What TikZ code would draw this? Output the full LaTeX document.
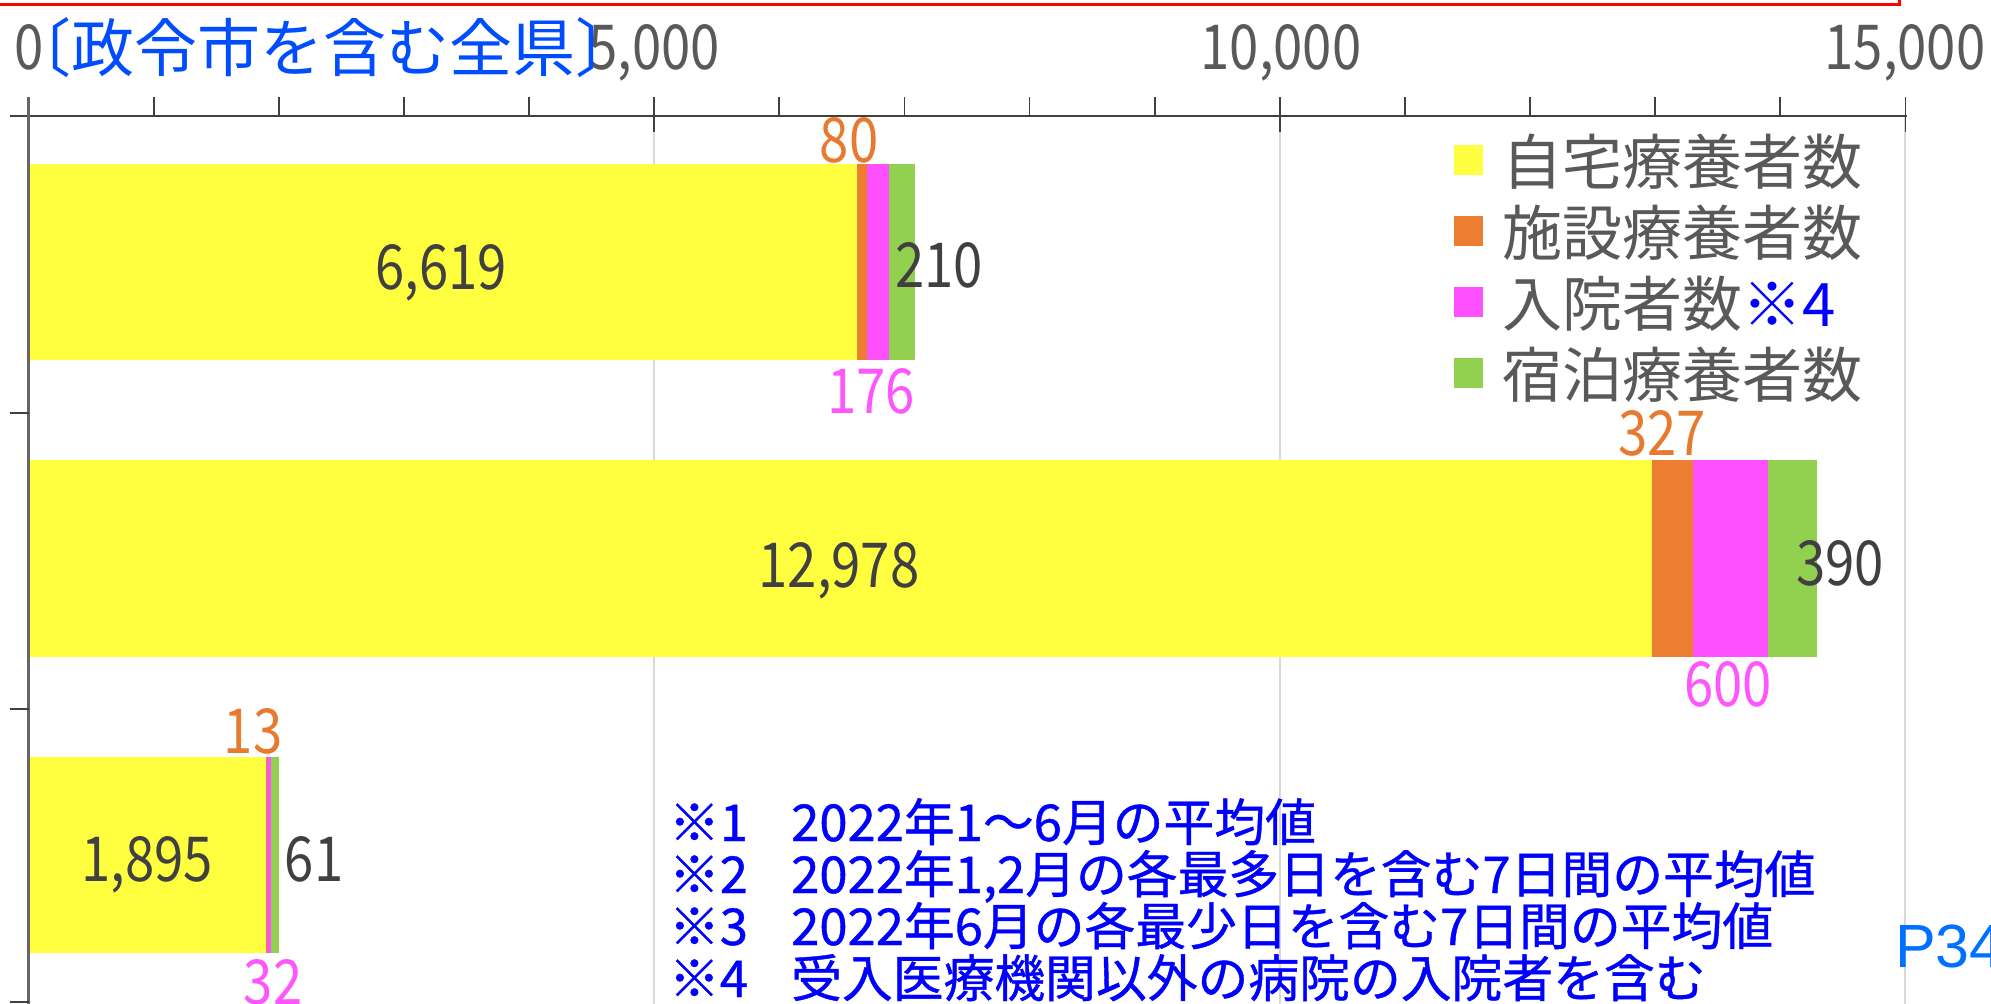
\documentclass[tikz,border=0pt]{standalone}
\usepackage{fontspec}
\setmainfont{Noto Sans CJK JP}
\newfontfamily\numfont[FakeStretch=0.85]{Noto Sans CJK JP}
\newfontfamily\notefont[FakeBold=0.8]{Noto Sans CJK JP}
\newfontfamily\arialfont{Liberation Sans}
\definecolor{cyel}{RGB}{255,255,64}
\definecolor{corg}{RGB}{237,125,49}
\definecolor{cmag}{RGB}{255,80,255}
\definecolor{cgrn}{RGB}{146,208,80}
\definecolor{corgtxt}{RGB}{232,122,48}
\definecolor{cmagtxt}{RGB}{255,85,255}
\definecolor{cdark}{RGB}{64,64,64}
\definecolor{cgray}{RGB}{89,89,89}
\definecolor{cgrid}{RGB}{217,217,217}
\definecolor{ctitle}{RGB}{0,76,255}
\definecolor{cnote}{RGB}{0,0,255}
\definecolor{cpage}{RGB}{0,112,255}
\definecolor{cred}{RGB}{255,0,0}
\tikzset{
  lbl/.style={inner sep=0pt, outer sep=0pt},
  num/.style={lbl, font=\numfont\fontsize{31}{31}\selectfont},
  ticklbl/.style={num, text=cgray, anchor=base},
  inlbl/.style={num, text=cdark, anchor=base},
  orglbl/.style={num, text=corgtxt, anchor=base},
  maglbl/.style={num, text=cmagtxt, anchor=base},
  legtxt/.style={lbl, anchor=base west, text=cgray, font=\fontsize{30}{30}\selectfont},
  notetxt/.style={lbl, anchor=base west, text=cnote, font=\notefont\fontsize{25.4}{25.4}\selectfont},
  gridline/.style={cgrid, line width=1pt},
  axisline/.style={cdark, line width=1.2pt},
  yaxisline/.style={black!60, line width=1.3pt},
  tickline/.style={cdark, line width=0.9pt}
}
\begin{document}
\begin{tikzpicture}[x=0.5pt,y=-0.5pt]
\useasboundingbox (0,0) rectangle (1991,1004);
\clip (0,0) rectangle (1991,1004);
\fill[white] (0,0) rectangle (1991,1004);
% red frame (mostly above the picture)
\draw[cred, line width=1.5pt] (-20,-80) rectangle (1899,5);
% gridlines
\foreach \gx in {654.15,1279.8,1905.45} \draw[gridline] (\gx,116) -- (\gx,1004);
% bars
\fill[cyel] (28.5,164) rectangle (856.7,360);
\fill[corg] (856.7,164) rectangle (866.7,360);
\fill[cmag] (866.7,164) rectangle (888.7,360);
\fill[cgrn] (888.7,164) rectangle (915.0,360);
\fill[cyel] (28.5,460) rectangle (1652.4,657);
\fill[corg] (1652.4,460) rectangle (1693.3,657);
\fill[cmag] (1693.3,460) rectangle (1768.4,657);
\fill[cgrn] (1768.4,460) rectangle (1817.2,657);
\fill[cyel] (28.5,757) rectangle (265.6,953);
\fill[corg] (265.6,757) rectangle (267.2,953);
\fill[cmag] (267.2,757) rectangle (271.2,953);
\fill[cgrn] (271.2,757) rectangle (278.8,953);
% axes
\foreach \k in {1,...,15} \draw[tickline] ({28.5+125.13*\k},97) -- ({28.5+125.13*\k},116);
\foreach \k in {5,10,15} \draw[tickline] ({28.5+125.13*\k},116) -- ({28.5+125.13*\k},132);
\draw[axisline] (10,116) -- (1906.5,116);
\draw[yaxisline] (28.5,97) -- (28.5,1004);
\foreach \yy in {413,709,1002} \draw[tickline] (10,\yy) -- (28.5,\yy);
% tick labels
\node[ticklbl] (t0) at (29,70) {0};
\node[ticklbl] (t5) at (654,70) {5,000};
\node[ticklbl] (t10) at (1281,70) {10,000};
\node[ticklbl] (t15) at (1905,70) {15,000};
% title
\node[lbl, anchor=base west, text=ctitle, font=\fontsize{31.5}{31.5}\selectfont] (title) at (9,71.5) {〔政令市を含む全県〕};
% bar labels
\node[inlbl] (v1a) at (441,290) {6,619};
\node[orglbl] (v1b) at (849,163) {80};
\node[maglbl] (v1c) at (871,414) {176};
\node[inlbl] (v1d) at (939,288) {210};
\node[inlbl] (v2a) at (839,588) {12,978};
\node[orglbl] (v2b) at (1662,456) {327};
\node[maglbl] (v2c) at (1728,707) {600};
\node[inlbl] (v2d) at (1840,586) {390};
\node[inlbl] (v3a) at (147,881) {1,895};
\node[orglbl] (v3b) at (253,754) {13};
\node[maglbl] (v3c) at (273,1004) {32};
\node[inlbl] (v3d) at (314,881) {61};
% legend
\fill[cyel] (1454,145) rectangle (1483,175);
\fill[corg] (1454,216) rectangle (1483,246);
\fill[cmag] (1454,287) rectangle (1483,317);
\fill[cgrn] (1454,358) rectangle (1483,388);
\node[legtxt] (g1) at (1502,185) {自宅療養者数};
\node[legtxt] (g2) at (1502,256) {施設療養者数};
\node[legtxt] (g3) at (1502,327) {入院者数\textcolor{cnote}{※4}};
\node[legtxt] (g4) at (1502,398) {宿泊療養者数};
% notes
\node[notetxt] (n1) at (669,841) {※1\hspace{0.85em}2022年1～6月の平均値};
\node[notetxt] (n2) at (669,893) {※2\hspace{0.85em}2022年1,2月の各最多日を含む7日間の平均値};
\node[notetxt] (n3) at (669,945) {※3\hspace{0.85em}2022年6月の各最少日を含む7日間の平均値};
\node[notetxt] (n4) at (669,997) {※4\hspace{0.85em}受入医療機関以外の病院の入院者を含む};
% page marker
\node[lbl, anchor=base west, text=cpage, font=\arialfont\fontsize{30.5}{30.5}\selectfont] (p34) at (1895,967) {P34};
\end{tikzpicture}
\end{document}
